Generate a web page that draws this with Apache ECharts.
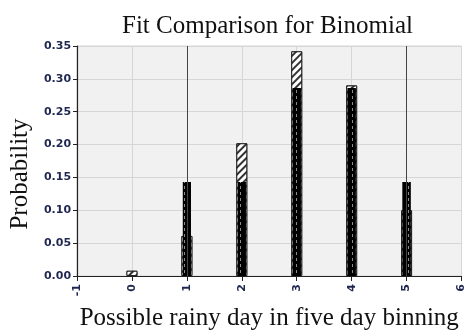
<!DOCTYPE html>
<html>
<head>
<meta charset="utf-8">
<script src="https://cdn.jsdelivr.net/npm/echarts@6/dist/echarts.min.js"></script>
<style>
html,body{margin:0;padding:0;background:#fff;}
#c{width:467px;height:336px;}
</style>
</head>
<body>
<div id="c"></div>
<script>
const xValues = [0, 1, 2, 3, 4, 5];
const observed = [0.008, 0.061, 0.202, 0.342, 0.290, 0.100];
const fitX = [1, 2, 3, 4, 5];
const fitted = [0.143, 0.143, 0.286, 0.286, 0.143];
const rangeLines = [1, 5];
const yTicks = [0, 0.05, 0.10, 0.15, 0.20, 0.25, 0.30, 0.35];

const chart = echarts.init(document.getElementById('c'), null, {renderer: 'canvas'});
const tickFont = {fontFamily: 'DejaVu Sans', fontWeight: 'bold', fontSize: 11, color: '#1f2650'};
const xAxisBase = {
  type: 'value', min: -1, max: 6, interval: 1,
  axisLine: {show: true, onZero: false, lineStyle: {color: '#222', width: 1.2}},
  axisTick: {show: true, length: 5, lineStyle: {color: '#222'}},
  splitLine: {show: true, lineStyle: {color: '#d6d6d6', width: 1}},
  axisLabel: Object.assign({rotate: 90, margin: 8}, tickFont)
};
const option = {
  backgroundColor: '#ffffff',
  animation: false,
  title: {
    text: 'Fit Comparison for Binomial',
    left: 117, top: 9,
    textStyle: {fontFamily: 'Liberation Serif', fontWeight: 'normal', fontSize: 25, color: '#111'}
  },
  grid: {left: 77, right: 4, top: 46, bottom: 57, show: true, backgroundColor: '#f1f1f1', borderColor: '#d6d6d6', borderWidth: 1},
  xAxis: [
    Object.assign({}, xAxisBase, {
      name: 'Possible rainy day in five day binning',
      nameLocation: 'middle', nameGap: 30,
      nameTextStyle: {fontFamily: 'Liberation Serif', fontSize: 25, color: '#111'}
    }),
    Object.assign({}, xAxisBase, {show: false})
  ],
  yAxis: {
    type: 'value', min: 0, max: 0.35, interval: 0.05,
    name: 'Probability', nameLocation: 'middle', nameGap: 32,
    nameTextStyle: {fontFamily: 'Liberation Serif', fontSize: 25, color: '#111', padding: [0, 26, 0, 0]},
    axisLine: {show: true, onZero: false, lineStyle: {color: '#222', width: 1.2}},
    axisTick: {show: true, length: 4, lineStyle: {color: '#222'}},
    splitLine: {show: true, lineStyle: {color: '#d6d6d6', width: 1}},
    axisLabel: Object.assign({margin: 6, formatter: v => v.toFixed(2)}, tickFont)
  },
  series: [
    {
      type: 'bar', xAxisIndex: 0,
      data: xValues.map((x, i) => [x, observed[i]]),
      barWidth: 11,
      itemStyle: {
        color: '#ffffff', borderColor: '#222', borderWidth: 1,
        decal: {symbol: 'rect', color: '#333', backgroundColor: '#fff', dashArrayX: [1, 0], dashArrayY: [2, 3], rotation: -Math.PI / 4, symbolSize: 1}
      },
      markLine: {
        silent: true, symbol: ['none', 'none'], label: {show: false},
        lineStyle: {color: '#444', width: 1, type: 'solid'},
        data: rangeLines.map(v => ({xAxis: v}))
      }
    },
    {
      type: 'bar', xAxisIndex: 1,
      data: fitX.map((x, i) => [x, fitted[i]]),
      barWidth: 8,
      itemStyle: {
        color: '#000', borderColor: '#000', borderWidth: 0,
        decal: {symbol: 'rect', color: 'rgba(255,255,255,0.55)', backgroundColor: '#000', dashArrayX: [[1, 7]], dashArrayY: [3, 3], symbolSize: 1}
      }
    }
  ]
};
chart.setOption(option);
</script>
</body>
</html>
